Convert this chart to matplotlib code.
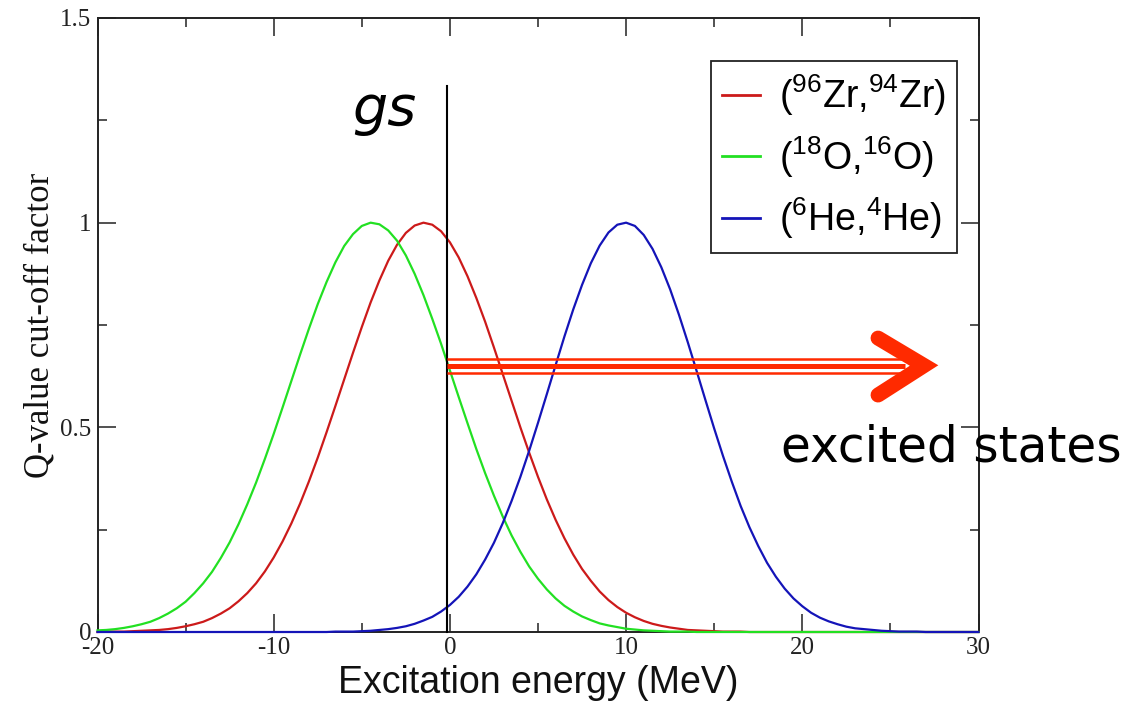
import matplotlib
matplotlib.use("Agg")
import matplotlib.pyplot as plt
from matplotlib.ticker import MultipleLocator, FixedLocator, FixedFormatter

# ---------------- data (every 0.5 MeV) ----------------
energy = [k / 2 for k in range(-40, 61)]  # -20 ... 30 MeV

zr_factor = [0.000, 0.001, 0.001, 0.001, 0.002, 0.003, 0.004, 0.005, 0.007, 0.010,
             0.014, 0.019, 0.025, 0.034, 0.045, 0.058, 0.075, 0.095, 0.119, 0.148,
             0.182, 0.221, 0.265, 0.314, 0.368, 0.426, 0.488, 0.552, 0.617, 0.682,
             0.745, 0.805, 0.859, 0.907, 0.946, 0.975, 0.993, 1.000, 0.995, 0.979,
             0.952, 0.915, 0.869, 0.816, 0.758, 0.695, 0.630, 0.565, 0.500, 0.438,
             0.379, 0.324, 0.274, 0.229, 0.189, 0.154, 0.125, 0.099, 0.078, 0.061,
             0.047, 0.036, 0.027, 0.020, 0.015, 0.011, 0.008, 0.005, 0.004, 0.003,
             0.002, 0.001, 0.001, 0.001, 0.000, 0.000, 0.000, 0.000, 0.000, 0.000,
             0.000, 0.000, 0.000, 0.000, 0.000, 0.000, 0.000, 0.000, 0.000, 0.000,
             0.000, 0.000, 0.000, 0.000, 0.000, 0.000, 0.000, 0.000, 0.000, 0.000,
             0.000]

o_factor = [0.004, 0.005, 0.007, 0.010, 0.014, 0.019, 0.025, 0.034, 0.045, 0.058,
            0.074, 0.095, 0.119, 0.147, 0.181, 0.219, 0.263, 0.312, 0.365, 0.423,
            0.484, 0.548, 0.613, 0.678, 0.741, 0.801, 0.855, 0.903, 0.943, 0.972,
            0.992, 1.000, 0.996, 0.981, 0.956, 0.920, 0.875, 0.823, 0.765, 0.704,
            0.639, 0.574, 0.510, 0.447, 0.388, 0.333, 0.282, 0.236, 0.196, 0.160,
            0.130, 0.104, 0.082, 0.064, 0.050, 0.038, 0.029, 0.021, 0.016, 0.012,
            0.008, 0.006, 0.004, 0.003, 0.002, 0.001, 0.001, 0.001, 0.000, 0.000,
            0.000, 0.000, 0.000, 0.000, 0.000, 0.000, 0.000, 0.000, 0.000, 0.000,
            0.000, 0.000, 0.000, 0.000, 0.000, 0.000, 0.000, 0.000, 0.000, 0.000,
            0.000, 0.000, 0.000, 0.000, 0.000, 0.000, 0.000, 0.000, 0.000, 0.000,
            0.000]

he_factor = [0.000, 0.000, 0.000, 0.000, 0.000, 0.000, 0.000, 0.000, 0.000, 0.000,
             0.000, 0.000, 0.000, 0.000, 0.000, 0.000, 0.000, 0.000, 0.000, 0.000,
             0.000, 0.000, 0.000, 0.000, 0.000, 0.000, 0.000, 0.001, 0.001, 0.001,
             0.002, 0.003, 0.005, 0.007, 0.010, 0.014, 0.020, 0.028, 0.037, 0.050,
             0.066, 0.086, 0.111, 0.141, 0.177, 0.218, 0.266, 0.320, 0.379, 0.443,
             0.511, 0.581, 0.652, 0.722, 0.788, 0.848, 0.901, 0.944, 0.976, 0.995,
             1.000, 0.992, 0.970, 0.936, 0.891, 0.837, 0.775, 0.708, 0.638, 0.567,
             0.497, 0.430, 0.367, 0.308, 0.256, 0.210, 0.169, 0.135, 0.106, 0.082,
             0.063, 0.047, 0.035, 0.026, 0.019, 0.013, 0.009, 0.007, 0.005, 0.003,
             0.002, 0.001, 0.001, 0.001, 0.000, 0.000, 0.000, 0.000, 0.000, 0.000,
             0.000]

series_labels = [r'($^{96}$Zr,$^{94}$Zr)', r'($^{18}$O,$^{16}$O)', r'($^{6}$He,$^{4}$He)']
series_colors = ['#cc1a1a', '#22e022', '#1414b8']

x_ticks = [-20, -10, 0, 10, 20, 30]
x_tick_labels = ['-20', '-10', '0', '10', '20', '30']
y_ticks = [0, 0.5, 1, 1.5]
y_tick_labels = ['0', '0.5', '1', '1.5']

gs_energy = -0.17
arrow_level = 0.651

# ---------------- figure ----------------
plt.rcParams['axes.unicode_minus'] = False
plt.rcParams['mathtext.default'] = 'regular'

W, H = 1122, 704
fig = plt.figure(figsize=(W / 100, H / 100), dpi=100)
ax = fig.add_axes([97.5 / W, 1 - 632 / H, (978.5 - 97.5) / W, (632 - 18) / H])

for ys, col, lab in zip([zr_factor, o_factor, he_factor], series_colors, series_labels):
    ax.plot(energy, ys, color=col, lw=1.6, label=lab, zorder=3, clip_on=False,
            solid_joinstyle='round')

ax.set_xlim(-20, 30)
ax.set_ylim(0, 1.5)

ax.xaxis.set_major_locator(FixedLocator(x_ticks))
ax.xaxis.set_major_formatter(FixedFormatter(x_tick_labels))
ax.xaxis.set_minor_locator(MultipleLocator(5))
ax.yaxis.set_major_locator(FixedLocator(y_ticks))
ax.yaxis.set_major_formatter(FixedFormatter(y_tick_labels))
ax.yaxis.set_minor_locator(MultipleLocator(0.25))

ax.tick_params(which='both', direction='in', top=True, right=True,
               color='#222222', width=1.1)
ax.tick_params(which='major', length=13, labelsize=18,
               labelfontfamily='Liberation Serif', labelcolor='#222222')
ax.tick_params(which='minor', length=6.5)
ax.tick_params(axis='x', which='major', pad=3.5)
ax.tick_params(axis='y', which='major', pad=4.5)

for sp in ax.spines.values():
    sp.set_linewidth(1.4)
    sp.set_color('#222222')

ax.set_xlabel('Excitation energy (MeV)', fontsize=27, family='Liberation Sans',
              color='#111111')
ax.xaxis.set_label_coords(0.5, -0.054)
ax.set_ylabel('Q-value cut-off factor', fontsize=25, family='Liberation Serif',
              color='#111111')
ax.yaxis.set_label_coords(-0.047, 0.5)

# ground-state line
ax.plot([gs_energy, gs_energy], [0, 1.334], color='black', lw=1.5, zorder=4,
        clip_on=False)

# triple-line arrow to the excited states
arrow_col = '#ff2a00'
x0, x1 = gs_energy, 25.83
ax.plot([x0, x1], [arrow_level + 0.0148, arrow_level + 0.0148], color=arrow_col,
        lw=1.8, solid_capstyle='butt', zorder=5, clip_on=False)
ax.plot([x0, x1], [arrow_level, arrow_level], color=arrow_col,
        lw=3.6, solid_capstyle='butt', zorder=5, clip_on=False)
ax.plot([x0, x1], [arrow_level - 0.0175, arrow_level - 0.0175], color=arrow_col,
        lw=1.8, solid_capstyle='butt', zorder=5, clip_on=False)
ax.plot([24.30, 26.91, 24.30], [0.718, arrow_level, 0.579], color=arrow_col,
        lw=10.8, solid_joinstyle='miter', solid_capstyle='round', zorder=5,
        clip_on=False)

# annotations
fig.text(352 / W, 1 - 125 / H, 'gs', fontsize=40, style='oblique',
         family='DejaVu Sans', ha='left', va='baseline', color='black')
fig.text(781 / W, 1 - 462 / H, 'excited states', fontsize=35,
         family='DejaVu Sans', ha='left', va='baseline', color='black')

leg = ax.legend(loc='upper right', bbox_to_anchor=(957 / W, 1 - 61 / H),
                bbox_transform=fig.transFigure, borderaxespad=0,
                prop={'family': 'Liberation Sans', 'size': 27},
                frameon=True, fancybox=False, framealpha=1, edgecolor='#222222',
                handlelength=1.0, handletextpad=0.5, labelspacing=0.43,
                borderpad=0.3)
leg.get_frame().set_linewidth(1.3)
for ln in leg.get_lines():
    ln.set_linewidth(2.0)

fig.savefig('out.png', dpi=100)
